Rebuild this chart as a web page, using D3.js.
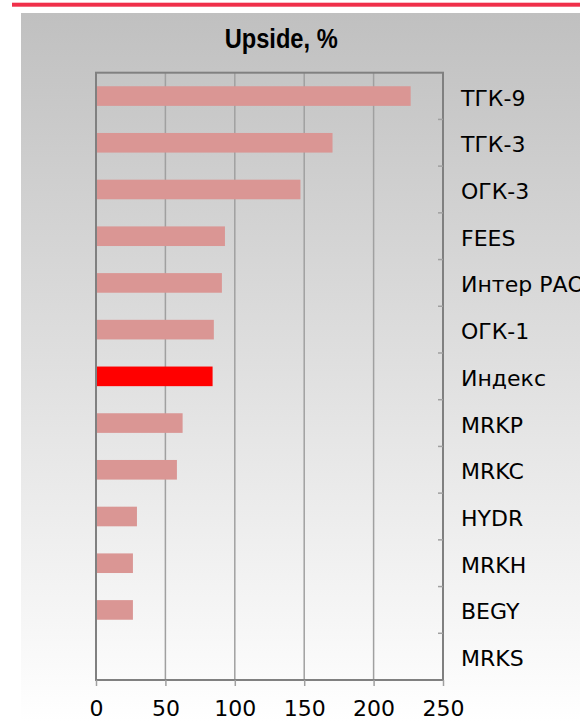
<!DOCTYPE html>
<html>
<head>
<meta charset="utf-8">
<script src="https://cdn.jsdelivr.net/npm/d3@7"></script>
<style>
  html, body { margin: 0; padding: 0; background: #fff; overflow: hidden; }
  svg { display: block; }
</style>
</head>
<body>
<svg id="chart" width="580" height="722"></svg>
<script>
const categories = ["ТГК-9", "ТГК-3", "ОГК-3", "FEES", "Интер РАО", "ОГК-1", "Индекс", "MRKP", "MRKC", "HYDR", "MRKH", "BEGY", "MRKS"];
const values = [226.7, 170.4, 147.3, 92.9, 90.7, 84.9, 84.0, 62.4, 58.3, 29.5, 26.6, 26.6, 0];
const highlight = ["Индекс"];
const xTicks = [0, 50, 100, 150, 200, 250];
const title = "Upside, %";

const svg = d3.select("#chart");
const W = 580, H = 722;
const plot = { left: 96, right: 443, top: 72.7, bottom: 680 };

const defs = svg.append("defs");
const grad = defs.append("linearGradient").attr("id", "bg").attr("x1", 0).attr("y1", 0).attr("x2", 0).attr("y2", 1);
grad.append("stop").attr("offset", "0%").attr("stop-color", "#c0c0c0");
grad.append("stop").attr("offset", "100%").attr("stop-color", "#ffffff");

svg.append("rect").attr("x", 0).attr("y", 0).attr("width", W).attr("height", H).attr("fill", "#fff");
svg.append("rect").attr("x", 21).attr("y", 13).attr("width", W - 21).attr("height", H - 13).attr("fill", "url(#bg)");
svg.append("rect").attr("x", 12).attr("y", 2.7).attr("width", W - 12).attr("height", 4).attr("fill", "#f0304a");

const x = d3.scaleLinear().domain([0, 250]).range([plot.left, plot.right]);
const y = d3.scaleBand().domain(categories).range([plot.top, plot.bottom]).paddingInner(0.58).paddingOuter(0.29);
const yb = d3.scaleBand().domain(categories).range([plot.top, plot.bottom]);

// gridlines
svg.append("g").selectAll("line").data(xTicks.slice(1, -1)).join("line")
  .attr("x1", d => x(d)).attr("x2", d => x(d))
  .attr("y1", plot.top).attr("y2", plot.bottom)
  .attr("stroke", "#a0a0a0").attr("stroke-width", 1.5);

// bars
svg.append("g").selectAll("rect").data(categories).join("rect")
  .attr("x", x(0))
  .attr("y", d => y(d))
  .attr("width", (d, i) => x(values[i]) - x(0))
  .attr("height", y.bandwidth())
  .attr("fill", d => highlight.includes(d) ? "#ff0000" : "#da9694");

// plot border
svg.append("rect").attr("x", plot.left).attr("y", plot.top)
  .attr("width", plot.right - plot.left).attr("height", plot.bottom - plot.top)
  .attr("fill", "none").attr("stroke", "#808080").attr("stroke-width", 2);

// x axis
const xAxis = d3.axisBottom(x).tickValues(xTicks).tickSize(6).tickPadding(14);
const gx = svg.append("g").attr("transform", `translate(0,${plot.bottom})`).call(xAxis);
gx.select(".domain").remove();
gx.selectAll(".tick line").attr("stroke", "#a0a0a0").attr("stroke-width", 1.5);
gx.selectAll(".tick text").attr("font-family", "DejaVu Sans, Verdana, sans-serif")
  .attr("font-size", 22).attr("fill", "#000");

// right y axis ticks at band boundaries
const boundaries = categories.slice(1).map(c => yb(c));
svg.append("g").selectAll("line").data(boundaries).join("line")
  .attr("x1", plot.right - 5).attr("x2", plot.right)
  .attr("y1", d => d).attr("y2", d => d)
  .attr("stroke", "#a0a0a0").attr("stroke-width", 1.5);

// category labels
svg.append("g").selectAll("text").data(categories).join("text")
  .attr("x", 461)
  .attr("y", d => yb(d) + yb.bandwidth() / 2 + 9.5)
  .attr("font-family", "DejaVu Sans, Verdana, sans-serif")
  .attr("font-size", 22)
  .attr("fill", "#000")
  .text(d => d);

// title
svg.append("text")
  .attr("x", 224.7).attr("y", 48)
  .attr("font-family", "Liberation Sans, Arial, sans-serif")
  .attr("font-weight", "bold")
  .attr("font-size", 28.5)
  .attr("textLength", 113)
  .attr("lengthAdjust", "spacingAndGlyphs")
  .attr("fill", "#000")
  .text(title);
</script>
</body>
</html>
